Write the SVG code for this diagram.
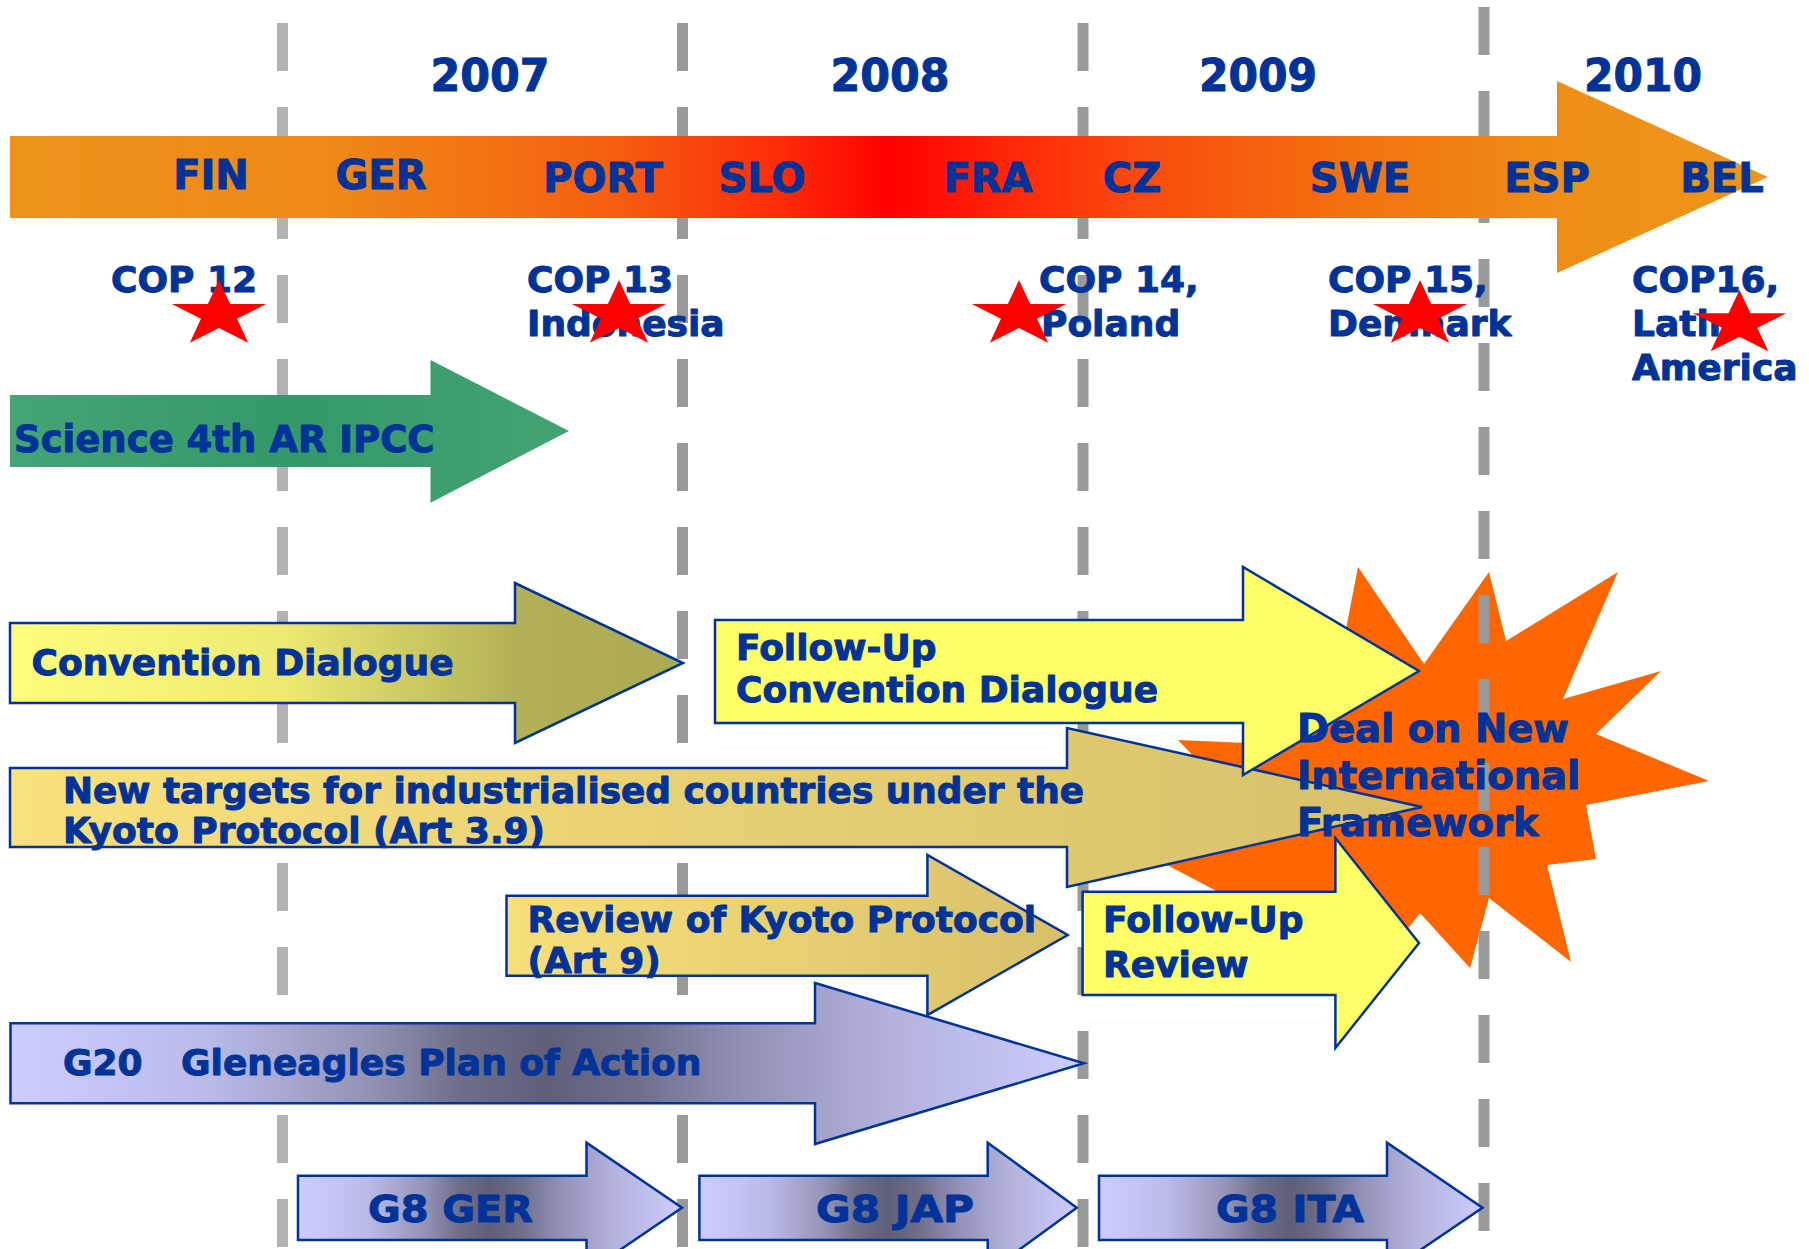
<svg xmlns="http://www.w3.org/2000/svg" xmlns:xlink="http://www.w3.org/1999/xlink" width="1809" height="1249" viewBox="0 0 1809 1249">
  <style>
    .t { font-family: "DejaVu Sans", "Liberation Sans", Arial, sans-serif; font-weight: bold; fill: #003399; stroke: #003399; stroke-width: 1; stroke-linejoin: round; }
    .yr { font-size: 44px; text-anchor: middle; }
    .pres { font-size: 40px; text-anchor: middle; }
    .cop { font-size: 36px; }
    .lbl { font-size: 36px; }
    .deal { font-size: 38.5px; }
    .g8 { font-size: 38px; text-anchor: middle; }
    .edge { stroke: #003399; stroke-width: 2.5; stroke-linejoin: miter; }
    .divider { stroke-width: 11; stroke-dasharray: 48 36; fill: none; }
  </style>
  <defs>
    <linearGradient id="bandGrad" gradientUnits="userSpaceOnUse" x1="10" y1="0" x2="1768" y2="0">
      <stop offset="0" stop-color="#EC931A"/>
      <stop offset="0.18" stop-color="#EF8917"/>
      <stop offset="0.34" stop-color="#F6600F"/>
      <stop offset="0.44" stop-color="#FD2A08"/>
      <stop offset="0.5" stop-color="#FF0000"/>
      <stop offset="0.56" stop-color="#FE2307"/>
      <stop offset="0.64" stop-color="#FA4A0E"/>
      <stop offset="0.77" stop-color="#F2740F"/>
      <stop offset="0.88" stop-color="#EE8E16"/>
      <stop offset="1" stop-color="#EE951A"/>
    </linearGradient>
    <linearGradient id="greenGrad" x1="0" y1="0" x2="1" y2="0">
      <stop offset="0" stop-color="#45A475"/>
      <stop offset="0.5" stop-color="#33996A"/>
      <stop offset="1" stop-color="#43A373"/>
    </linearGradient>
    <linearGradient id="oliveGrad" x1="0" y1="0" x2="1" y2="0">
      <stop offset="0" stop-color="#FFFD7C"/>
      <stop offset="0.4" stop-color="#EEEA71"/>
      <stop offset="0.75" stop-color="#B3B157"/>
      <stop offset="1" stop-color="#ABA952"/>
    </linearGradient>
    <linearGradient id="goldGrad" x1="0" y1="0" x2="1" y2="0">
      <stop offset="0" stop-color="#FAE17E"/>
      <stop offset="0.5" stop-color="#E7D073"/>
      <stop offset="1" stop-color="#D8C06A"/>
    </linearGradient>
    <linearGradient id="goldGrad2" x1="0" y1="0" x2="1" y2="0">
      <stop offset="0" stop-color="#F8DF7B"/>
      <stop offset="1" stop-color="#D8C06A"/>
    </linearGradient>
    <linearGradient id="lavGrad" x1="0" y1="0" x2="1" y2="0">
      <stop offset="0" stop-color="#CCCCFF"/>
      <stop offset="0.18" stop-color="#BBBBEA"/>
      <stop offset="0.33" stop-color="#9494B6"/>
      <stop offset="0.42" stop-color="#6E6E8A"/>
      <stop offset="0.5" stop-color="#5F5F78"/>
      <stop offset="0.58" stop-color="#6E6E8A"/>
      <stop offset="0.68" stop-color="#9090B6"/>
      <stop offset="0.82" stop-color="#B2B2DC"/>
      <stop offset="1" stop-color="#CCCCFF"/>
    </linearGradient>
    <path id="star" d="M0,-1 L0.2245,-0.309 L0.951,-0.309 L0.363,0.118 L0.588,0.809 L0,0.382 L-0.588,0.809 L-0.363,0.118 L-0.951,-0.309 L-0.2245,-0.309 Z" fill="#FF0000"/>
  </defs>

  <rect width="1809" height="1249" fill="#FFFFFF"/>

  <!-- explosion behind the year dividers -->
  <g id="deal-burst">
    <polygon fill="#FF6600" points="1358,567 1424,664 1489,572 1506,641 1618,572 1563,699 1661,671 1596,734 1709,781 1586,805 1596,859 1547,865 1571,962 1489,898 1470,968 1420,913 1360,990 1300,935 1150,856 1250,815 1178,740 1270,744 1220,680 1340,660"/>
  </g>

  <!-- dashed year dividers -->
  <g id="connectors">
    <line class="divider" stroke="#B3B3B3" x1="282.5" y1="23" x2="282.5" y2="1260"/>
    <line class="divider" stroke="#999999" x1="682.5" y1="23" x2="682.5" y2="1260"/>
    <line class="divider" stroke="#999999" x1="1083" y1="23" x2="1083" y2="1260"/>
    <line class="divider" stroke="#999999" x1="1484" y1="7" x2="1484" y2="1260"/>
  </g>

  <!-- year headings -->
  <g id="years">
    <text class="t yr" x="490" y="91" textLength="119" lengthAdjust="spacingAndGlyphs">2007</text>
    <text class="t yr" x="890" y="91" textLength="119" lengthAdjust="spacingAndGlyphs">2008</text>
    <text class="t yr" x="1258" y="91" textLength="118" lengthAdjust="spacingAndGlyphs">2009</text>
    <text class="t yr" x="1643" y="91" textLength="118" lengthAdjust="spacingAndGlyphs">2010</text>
  </g>

  <!-- EU presidencies timeline -->
  <g id="presidency-band">
    <path fill="url(#bandGrad)" d="M10,136 H1557 V81 L1768,177 L1557,273 V218 H10 Z"/>
    <text class="t pres" x="211" y="189">FIN</text>
    <text class="t pres" x="381" y="189">GER</text>
    <text class="t pres" x="603" y="192">PORT</text>
    <text class="t pres" x="762" y="192">SLO</text>
    <text class="t pres" x="988" y="192">FRA</text>
    <text class="t pres" x="1132" y="192">CZ</text>
    <text class="t pres" x="1360" y="192">SWE</text>
    <text class="t pres" x="1547" y="192">ESP</text>
    <text class="t pres" x="1722" y="192">BEL</text>
  </g>

  <!-- conferences of the parties -->
  <g id="cop12">
    <text class="t cop" x="111" y="292">COP 12</text>
    <use href="#star" transform="translate(219,314.7) scale(49.6,34.7)"/>
  </g>
  <g id="cop13">
    <text class="t cop" x="527" y="292">COP 13</text>
    <text class="t cop" x="527" y="336">Indonesia</text>
    <use href="#star" transform="translate(619,314.7) scale(49.6,34.7)"/>
  </g>
  <g id="cop14">
    <text class="t cop" x="1039" y="292">COP 14,</text>
    <text class="t cop" x="1041" y="336">Poland</text>
    <use href="#star" transform="translate(1019,314.7) scale(49.6,34.7)"/>
  </g>
  <g id="cop15">
    <text class="t cop" x="1328" y="292">COP 15,</text>
    <text class="t cop" x="1328" y="336">Denmark</text>
    <use href="#star" transform="translate(1420,314.7) scale(49.6,34.7)"/>
  </g>
  <g id="cop16">
    <text class="t cop" x="1632" y="292">COP16,</text>
    <text class="t cop" x="1632" y="336">Latin</text>
    <text class="t cop" x="1632" y="380">America</text>
    <use href="#star" transform="translate(1739.5,323.8) scale(49,33.8)"/>
  </g>

  <g id="science-ipcc">
    <path fill="url(#greenGrad)" d="M10,395 H430.5 V360 L569,431 L430.5,502.7 V467 H10 Z"/>
    <text class="t lbl" x="14" y="451.5" style="font-size:37px">Science 4th AR IPCC</text>
  </g>

  <g id="convention-dialogue">
    <path class="edge" fill="url(#oliveGrad)" d="M10,623 H515 V583 L683,663 L515,743 V703 H10 Z"/>
    <text class="t lbl" x="31.5" y="675">Convention Dialogue</text>
  </g>

  <g id="new-targets">
    <path class="edge" fill="url(#goldGrad)" d="M10,768 H1067 V728 L1422,807 L1067,887 V847 H10 Z"/>
    <text class="t lbl" x="63" y="803" textLength="1021" lengthAdjust="spacingAndGlyphs">New targets for industrialised countries under the</text>
    <text class="t lbl" x="63" y="843">Kyoto Protocol (Art 3.9)</text>
  </g>

  <g id="follow-up-dialogue">
    <path class="edge" fill="#FFFF66" d="M715,620 H1243 V567 L1419,671 L1243,775 V723 H715 Z"/>
    <text class="t lbl" x="736" y="660">Follow-Up</text>
    <text class="t lbl" x="736" y="702">Convention Dialogue</text>
  </g>

  <g id="review-kyoto">
    <path class="edge" fill="url(#goldGrad2)" d="M506.5,895.7 H927.4 V855 L1067.7,935 L927.4,1015 V975.7 H506.5 Z"/>
    <text class="t lbl" x="527.5" y="932">Review of Kyoto Protocol</text>
    <text class="t lbl" x="527.5" y="973">(Art 9)</text>
  </g>

  <g id="follow-up-review">
    <path class="edge" fill="#FFFF66" d="M1082.6,891.7 H1335.4 V838 L1419,943 L1335.4,1048 V995 H1082.6 Z"/>
    <text class="t lbl" x="1103" y="932">Follow-Up</text>
    <text class="t lbl" x="1103" y="977">Review</text>
  </g>

  <g id="g20-gleneagles">
    <path class="edge" fill="url(#lavGrad)" d="M10.5,1023.3 H815 V983 L1084,1063.3 L815,1144 V1103.3 H10.5 Z"/>
    <text class="t lbl" y="1075"><tspan x="63">G20</tspan><tspan x="181">Gleneagles Plan of Action</tspan></text>
  </g>

  <g id="g8-ger">
    <path class="edge" fill="url(#lavGrad)" d="M298,1175.7 H586.5 V1142.7 L682,1207.7 L586.5,1272.7 V1240 H298 Z"/>
    <text class="t g8" x="450.5" y="1221.7" textLength="165" lengthAdjust="spacingAndGlyphs">G8 GER</text>
  </g>
  <g id="g8-jap">
    <path class="edge" fill="url(#lavGrad)" d="M699.4,1175.7 H987.7 V1142.7 L1076.8,1207.7 L987.7,1272.7 V1240 H699.4 Z"/>
    <text class="t g8" x="895" y="1221.7" textLength="158" lengthAdjust="spacingAndGlyphs">G8 JAP</text>
  </g>
  <g id="g8-ita">
    <path class="edge" fill="url(#lavGrad)" d="M1099,1175.7 H1387 V1142.7 L1482.5,1207.7 L1387,1272.7 V1240 H1099 Z"/>
    <text class="t g8" x="1290" y="1221.7" textLength="148" lengthAdjust="spacingAndGlyphs">G8 ITA</text>
  </g>

  <g id="deal-label">
    <text class="t deal" x="1297" y="742">Deal on New</text>
    <text class="t deal" x="1297" y="789">International</text>
    <text class="t deal" x="1297" y="836">Framework</text>
  </g>
</svg>
